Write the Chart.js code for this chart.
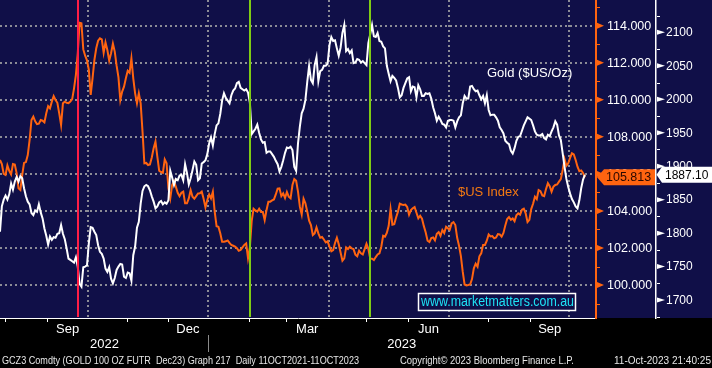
<!DOCTYPE html>
<html>
<head>
<meta charset="utf-8">
<title>Gold vs $US Index</title>
<script src="https://cdn.jsdelivr.net/npm/chart.js@4.4.1/dist/chart.umd.min.js"></script>
<style>
    html, body { margin: 0; padding: 0; background: #000; }
    #chart { display: block; }
</style>
</head>
<body>
<canvas id="chart" width="712" height="368"></canvas>
<script>
// Daily closes, one value per trading day starting 27 Jul 2022 (index 0)
const usdIndex = [
    106.75, 106.53, 106.00, 105.94, 106.46, 106.17, 105.97, 106.53, 106.50, 106.03,
    105.22, 105.13, 105.94, 106.59, 106.64, 107.02, 107.83, 108.91, 109.09, 108.84,
    108.69, 108.71, 108.91, 108.87, 108.78, 109.27, 109.66, 109.54, 109.90, 110.20,
    109.99, 109.84, 109.27, 108.64, 109.81, 109.90, 109.84, 109.82, 109.90, 110.04,
    110.62, 111.34, 112.51, 114.16, 114.13, 112.72, 112.38, 112.13, 111.61, 110.26,
    111.16, 112.15, 112.78, 113.19, 113.32, 113.26, 112.54, 113.10, 112.69, 112.11,
    112.51, 113.03, 112.60, 111.84, 111.21, 109.99, 110.44, 110.71, 111.16, 111.57,
    111.46, 112.24, 111.16, 110.35, 109.81, 110.35, 109.81, 108.28, 106.57, 106.59,
    106.48, 106.51, 106.89, 107.38, 107.74, 106.93, 106.17, 106.10, 106.06, 106.78,
    106.57, 105.22, 104.68, 105.40, 105.61, 105.31, 104.98, 104.80, 104.98, 105.04,
    104.41, 104.41, 104.68, 105.13, 104.77, 104.66, 104.80, 104.94, 104.95, 105.04,
    104.66, 104.19, 104.59, 104.89, 104.68, 105.04, 103.96, 103.18, 103.15, 102.79,
    102.34, 102.34, 102.36, 102.41, 102.28, 102.16, 102.12, 102.07, 101.99, 101.85,
    101.89, 102.03, 102.17, 102.25, 101.44, 102.03, 103.47, 104.12, 104.03, 103.96,
    104.12, 103.94, 103.94, 103.51, 104.05, 104.50, 104.50, 104.57, 104.62, 104.89,
    105.20, 105.22, 104.80, 104.95, 104.70, 105.02, 104.77, 104.68, 105.40, 105.72,
    105.63, 105.04, 104.23, 103.81, 104.66, 104.41, 103.97, 103.47, 103.24, 102.70,
    102.79, 103.11, 102.79, 102.55, 102.59, 102.46, 102.30, 102.36, 102.07, 101.82,
    101.89, 102.27, 102.55, 102.21, 101.76, 101.31, 101.44, 102.03, 101.94, 102.07,
    101.98, 101.94, 101.64, 101.55, 101.85, 101.71, 101.65, 101.94, 102.23, 101.96,
    101.44, 101.42, 101.35, 101.51, 101.65, 101.71, 102.07, 102.66, 102.61, 102.82,
    103.20, 104.10, 103.26, 103.29, 103.65, 103.96, 104.39, 104.35, 104.32, 104.34,
    104.21, 103.80, 104.05, 104.14, 104.21, 103.90, 103.60, 103.74, 103.58, 103.18,
    102.84, 102.39, 102.32, 102.54, 102.57, 102.41, 102.77, 102.86, 102.66, 102.97,
    102.81, 103.15, 103.06, 102.99, 103.33, 103.40, 103.24, 102.55, 102.12, 101.56,
    100.72, 100.03, 99.98, 100.00, 100.03, 100.32, 100.90, 101.15, 100.99, 101.55,
    101.71, 102.16, 102.16, 102.39, 102.73, 102.62, 102.64, 102.52, 102.57, 102.75,
    102.73, 102.61, 102.81, 103.22, 103.56, 103.67, 103.52, 103.60, 103.45, 103.76,
    103.87, 103.80, 104.07, 104.12, 103.87, 103.40, 103.52, 104.10, 104.39, 104.77,
    104.64, 105.13, 105.07, 104.84, 104.80, 105.18, 105.50, 105.34, 105.04, 105.31,
    105.40, 105.43, 105.58, 105.72, 106.21, 106.80, 106.44, 106.57, 106.86, 107.11,
    107.05, 106.75, 106.39, 106.15, 106.19, 106.05, 105.813
];

const goldPrice = [
    1802, 1840, 1850, 1856, 1850, 1858, 1874, 1865, 1877, 1884,
    1877, 1885, 1882, 1867, 1855, 1847, 1843, 1830, 1827, 1834,
    1832, 1843, 1831, 1822, 1807, 1796, 1783, 1795, 1790, 1794,
    1793, 1799, 1800, 1812, 1799, 1791, 1777, 1762, 1760, 1758,
    1756, 1764, 1750, 1724, 1720, 1749, 1750, 1752, 1785, 1809,
    1808, 1802, 1797, 1782, 1772, 1769, 1762, 1747, 1742, 1749,
    1732, 1725, 1733, 1745, 1750, 1754, 1753, 1735, 1733, 1741,
    1740, 1729, 1767, 1780, 1808, 1817, 1844, 1863, 1870, 1872,
    1870, 1864, 1855, 1847, 1837, 1840, 1846, 1848, 1843, 1846,
    1844, 1849, 1893, 1883, 1872, 1881, 1879, 1886, 1887, 1879,
    1903, 1890, 1873, 1882, 1894, 1907, 1902, 1879, 1882, 1904,
    1906, 1909, 1918, 1934, 1943, 1931, 1948, 1961, 1964, 1978,
    1998, 2009, 2002, 1998, 1994, 2006, 2013, 2016, 2024, 2026,
    2017, 2015, 2013, 2015, 2010, 1995, 1948, 1952, 1956, 1962,
    1950, 1940, 1935, 1936, 1920, 1922, 1922, 1918, 1914, 1908,
    1903, 1892, 1899, 1909, 1920, 1928, 1927, 1929, 1924, 1899,
    1893, 1934, 1959, 1979, 1986, 1999, 2026, 2050, 2029, 2024,
    2051, 2063, 2027, 2042, 2044, 2050, 2050, 2053, 2081, 2093,
    2087, 2088, 2076, 2065, 2077, 2099, 2111, 2072, 2075, 2069,
    2073, 2054, 2055, 2060, 2059, 2055, 2057, 2054, 2051, 2084,
    2097, 2111, 2094, 2093, 2099, 2087, 2086, 2079, 2076, 2050,
    2038, 2027, 2035, 2032, 2028, 2017, 2003, 2006, 2017, 2024,
    2031, 2033, 2012, 2019, 2018, 2003, 2021, 2015, 2005, 2005,
    2009, 2008, 2009, 2001, 1988, 1979, 1968, 1974, 1969, 1963,
    1962, 1958, 1968, 1969, 1969, 1968, 1958, 1967, 1973, 1976,
    1994, 2005, 2001, 2001, 2019, 2020, 2015, 2012, 2013, 2006,
    2000, 2005, 1994, 2006, 1984, 1976, 1977, 1977, 1973, 1968,
    1958, 1954, 1949, 1938, 1935, 1933, 1923, 1919, 1927, 1938,
    1944, 1945, 1953, 1961, 1967, 1973, 1971, 1969, 1961, 1952,
    1947, 1946, 1946, 1948, 1942, 1940, 1947, 1945, 1952, 1958,
    1967, 1962, 1946, 1939, 1919, 1899, 1881, 1869, 1859, 1851,
    1846, 1840, 1837, 1849, 1867, 1880, 1887.10
];

// Trading-day positions for the time axis
const monthStarts = [2.5, 25.5, 68.5, 90.5, 134.5, 154.5, 197.5, 220.5, 263.5, 286.5];
const quarterStarts = [47.5, 112.5, 177.5, 242.5, 307.5];
const monthLabels = ['Sep', 'Dec', 'Mar', 'Jun', 'Sep'];
const monthLabelDays = [36.5, 101.5, 166, 231.5, 297];
const yearLabels = ['2022', '2023'];
const yearLabelDays = [56.5, 217];
const yearBreakDay = 112.5;

// Fed decision days marked on the chart
const redLineDays = [42];
const greenLineDays = [135, 200];

const usdTicks = [100, 102, 104, 106, 108, 110, 112, 114];
const usdMinorTicks = [99, 101, 103, 105, 107, 109, 111, 113, 115];
const goldTicks = [1700, 1750, 1800, 1850, 1900, 1950, 2000, 2050, 2100];
const goldMinorTicks = [1675, 1725, 1775, 1825, 1875, 1925, 1975, 2025, 2075, 2125];

const FONT = '"Liberation Sans", Arial, sans-serif';
const NAVY = '#100f48';
const ORANGE = '#ff6410';

function fitText(ctx, text, x, y, w, font, color) {
    ctx.save();
    ctx.font = font;
    const m = ctx.measureText(text).width;
    ctx.translate(x, y);
    ctx.scale(w / m, 1);
    ctx.fillStyle = color;
    ctx.textAlign = 'left';
    ctx.textBaseline = 'middle';
    ctx.fillText(text, 0, 0);
    ctx.restore();
}

const bloombergPlugin = {
    id: 'bloomberg',
    beforeDraw(chart) {
        const ctx = chart.ctx;
        const area = chart.chartArea;
        ctx.save();
        ctx.fillStyle = '#000';
        ctx.fillRect(0, 0, chart.width, chart.height);
        ctx.fillStyle = NAVY;
        ctx.fillRect(0, 0, chart.width, area.bottom);
        ctx.restore();
    },
    beforeDatasetsDraw(chart) {
        const ctx = chart.ctx;
        const area = chart.chartArea;
        const x = chart.scales.x;
        const y = chart.scales.y;
        ctx.save();
        ctx.strokeStyle = '#8c8c96';
        ctx.lineWidth = 2;
        ctx.setLineDash([2, 3]);
        usdTicks.forEach(v => {
            const py = Math.round(y.getPixelForValue(v));
            ctx.beginPath();
            ctx.moveTo(area.left, py);
            ctx.lineTo(area.right - 1, py);
            ctx.stroke();
        });
        quarterStarts.forEach(d => {
            const px = Math.round(x.getPixelForValue(d));
            ctx.beginPath();
            ctx.moveTo(px, area.top);
            ctx.lineTo(px, area.bottom);
            ctx.stroke();
        });
        ctx.restore();
    },
    afterDatasetsDraw(chart) {
        const ctx = chart.ctx;
        const area = chart.chartArea;
        const x = chart.scales.x;
        ctx.save();
        ctx.lineWidth = 2;
        ctx.strokeStyle = '#ff1e46';
        redLineDays.forEach(d => {
            const px = Math.round(x.getPixelForValue(d));
            ctx.beginPath();
            ctx.moveTo(px, area.top);
            ctx.lineTo(px, area.bottom - 1);
            ctx.stroke();
        });
        ctx.strokeStyle = '#7fcc14';
        greenLineDays.forEach(d => {
            const px = Math.round(x.getPixelForValue(d));
            ctx.beginPath();
            ctx.moveTo(px, area.top);
            ctx.lineTo(px, area.bottom - 1);
            ctx.stroke();
        });

        // series captions
        ctx.font = '13px ' + FONT;
        ctx.textBaseline = 'middle';
        ctx.textAlign = 'left';
        ctx.fillStyle = '#ffffff';
        ctx.fillText('Gold ($US/Oz)', 487, 73);
        ctx.fillStyle = '#f57a12';
        ctx.fillText('$US Index', 458, 192);

        // watermark
        ctx.fillStyle = NAVY;
        ctx.fillRect(418.5, 293.5, 157, 17);
        ctx.strokeStyle = '#ffffff';
        ctx.lineWidth = 1.5;
        ctx.strokeRect(418.5, 293.5, 157, 17);
        fitText(ctx, 'www.marketmatters.com.au', 421, 302.5, 153, '14px ' + FONT, '#1ee3f5');
        ctx.restore();
    },
    afterDraw(chart) {
        const ctx = chart.ctx;
        const area = chart.chartArea;
        const x = chart.scales.x;
        const y = chart.scales.y;
        const y2 = chart.scales.y2;
        ctx.save();
        ctx.textBaseline = 'middle';
        ctx.textAlign = 'left';

        // usd axis markers and labels
        ctx.fillStyle = ORANGE;
        ctx.strokeStyle = ORANGE;
        ctx.lineWidth = 1;
        usdTicks.forEach(v => {
            const py = y.getPixelForValue(v);
            ctx.beginPath();
            ctx.moveTo(597, py - 3);
            ctx.lineTo(604, py);
            ctx.lineTo(597, py + 3);
            ctx.closePath();
            ctx.fill();
        });
        usdMinorTicks.forEach(v => {
            const py = Math.round(y.getPixelForValue(v)) + 0.5;
            ctx.beginPath();
            ctx.moveTo(597, py);
            ctx.lineTo(600, py);
            ctx.stroke();
        });
        ctx.fillStyle = '#ffffff';
        ctx.font = '12.5px ' + FONT;
        usdTicks.forEach(v => {
            ctx.fillText(v.toFixed(3), 607, y.getPixelForValue(v) + 0.5);
        });

        // gold axis markers and labels
        ctx.fillStyle = '#ffffff';
        ctx.strokeStyle = '#ffffff';
        goldTicks.forEach(v => {
            const py = y2.getPixelForValue(v);
            ctx.beginPath();
            ctx.moveTo(657, py - 2.5);
            ctx.lineTo(665, py);
            ctx.lineTo(657, py + 2.5);
            ctx.closePath();
            ctx.fill();
        });
        goldMinorTicks.forEach(v => {
            const py = Math.round(y2.getPixelForValue(v)) + 0.5;
            ctx.beginPath();
            ctx.moveTo(657, py);
            ctx.lineTo(660, py);
            ctx.stroke();
        });
        ctx.font = '12px ' + FONT;
        goldTicks.forEach(v => {
            ctx.fillText(String(v), 666, y2.getPixelForValue(v) + 0.5);
        });

        // last value boxes
        const lastUsd = usdIndex[usdIndex.length - 1];
        let yc = y.getPixelForValue(lastUsd);
        ctx.fillStyle = ORANGE;
        ctx.beginPath();
        ctx.moveTo(597, yc);
        ctx.lineTo(604, yc - 8);
        ctx.lineTo(655, yc - 8);
        ctx.lineTo(655, yc + 8);
        ctx.lineTo(604, yc + 8);
        ctx.closePath();
        ctx.fill();
        ctx.font = '12.5px ' + FONT;
        ctx.fillStyle = '#2a0800';
        ctx.fillText(lastUsd.toFixed(3), 606, yc + 0.5);

        const lastGold = goldPrice[goldPrice.length - 1];
        yc = y2.getPixelForValue(lastGold);
        ctx.fillStyle = '#ffffff';
        ctx.beginPath();
        ctx.moveTo(656.5, yc);
        ctx.lineTo(662, yc - 8);
        ctx.lineTo(712, yc - 8);
        ctx.lineTo(712, yc + 8);
        ctx.lineTo(662, yc + 8);
        ctx.closePath();
        ctx.fill();
        ctx.font = '12px ' + FONT;
        ctx.fillStyle = '#000000';
        ctx.fillText(lastGold.toFixed(2), 665, yc + 0.5);

        // time axis
        ctx.strokeStyle = '#ffffff';
        ctx.lineWidth = 1;
        monthStarts.forEach(d => {
            const px = Math.round(x.getPixelForValue(d)) + 0.5;
            ctx.beginPath();
            ctx.moveTo(px, area.bottom);
            ctx.lineTo(px, area.bottom + 4);
            ctx.stroke();
        });
        ctx.fillStyle = '#ffffff';
        ctx.textAlign = 'center';
        ctx.font = '13px ' + FONT;
        monthLabels.forEach((m, i) => {
            ctx.fillText(m, x.getPixelForValue(monthLabelDays[i]), 329);
        });
        yearLabels.forEach((t, i) => {
            ctx.fillText(t, x.getPixelForValue(yearLabelDays[i]), 344);
        });
        const sep = Math.round(x.getPixelForValue(yearBreakDay)) + 0.5;
        ctx.strokeStyle = '#8a8a8a';
        ctx.beginPath();
        ctx.moveTo(sep, 335);
        ctx.lineTo(sep, 352);
        ctx.stroke();

        // footer
        const ff = '11px ' + FONT;
        fitText(ctx, 'GCZ3 Comdty (GOLD 100 OZ FUTR  Dec23) Graph 217  Daily 11OCT2021-11OCT2023', 2, 361, 357, ff, '#e6e6e6');
        fitText(ctx, 'Copyright\u00a9 2023 Bloomberg Finance L.P.', 400, 361, 174, ff, '#e6e6e6');
        fitText(ctx, '11-Oct-2023 21:40:25', 614, 361, 97, ff, '#e6e6e6');
        ctx.restore();
    }
};

const ctx = document.getElementById('chart');
const chart = new Chart(ctx, {
    type: 'line',
    data: {
        datasets: [
            {
                label: 'Gold ($US/Oz)',
                data: goldPrice.map((v, i) => ({ x: i, y: v })),
                yAxisID: 'y2',
                borderColor: '#ffffff',
                borderWidth: 2,
                pointRadius: 0,
                tension: 0
            },
            {
                label: '$US Index',
                data: usdIndex.map((v, i) => ({ x: i, y: v })),
                yAxisID: 'y',
                borderColor: ORANGE,
                borderWidth: 2,
                pointRadius: 0,
                tension: 0
            }
        ]
    },
    options: {
        responsive: false,
        animation: false,
        devicePixelRatio: 1,
        layout: { padding: 0 },
        plugins: {
            legend: { display: false },
            tooltip: { enabled: false }
        },
        scales: {
            x: {
                type: 'linear',
                position: 'bottom',
                min: 0,
                max: 322,
                grid: { display: false, drawTicks: false },
                border: { display: true, color: '#ffffff', width: 1 },
                ticks: { display: false },
                afterFit: s => { s.height = 50; }
            },
            y: {
                type: 'linear',
                position: 'right',
                weight: 1,
                min: 98.22,
                max: 115.388,
                grid: { display: false, drawTicks: false },
                border: { display: true, color: ORANGE, width: 2 },
                ticks: { display: false },
                afterFit: s => { s.width = 60; }
            },
            y2: {
                type: 'linear',
                position: 'right',
                weight: 2,
                min: 1673.2,
                max: 2148.3,
                grid: { display: false, drawTicks: false },
                border: { display: true, color: '#ffffff', width: 1.5 },
                ticks: { display: false },
                afterFit: s => { s.width = 56; }
            }
        }
    },
    plugins: [bloombergPlugin]
});
</script>
</body>
</html>
